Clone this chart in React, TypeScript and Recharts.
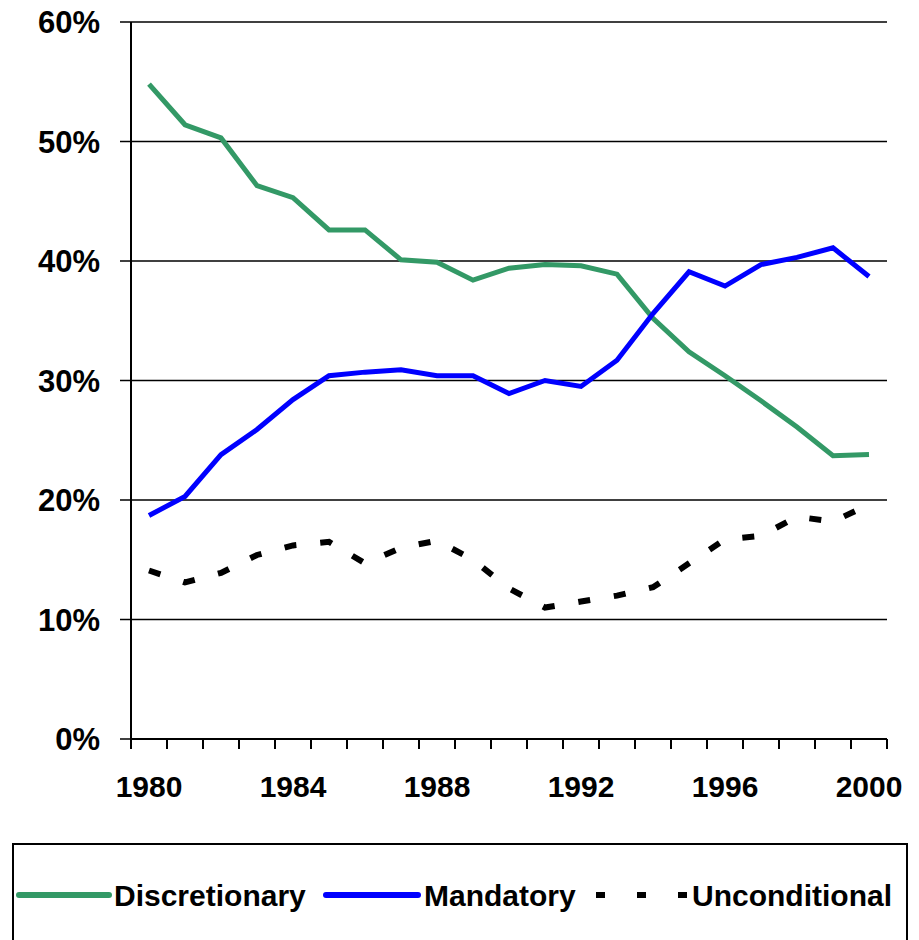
import React from "react";
import { LineChart, Line, XAxis, YAxis, CartesianGrid } from "recharts";

const years = [
  "1980", "1981", "1982", "1983", "1984", "1985", "1986", "1987", "1988", "1989", "1990",
  "1991", "1992", "1993", "1994", "1995", "1996", "1997", "1998", "1999", "2000",
];
const labelYears = ["1980", "1984", "1988", "1992", "1996", "2000"];
const discretionary = [
  54.8, 51.4, 50.3, 46.3, 45.3, 42.6, 42.6, 40.1, 39.9, 38.4, 39.4,
  39.7, 39.6, 38.9, 35.2, 32.4, 30.4, 28.3, 26.1, 23.7, 23.8,
];
const mandatory = [
  18.7, 20.3, 23.8, 25.9, 28.4, 30.4, 30.7, 30.9, 30.4, 30.4, 28.9,
  30.0, 29.5, 31.7, 35.6, 39.1, 37.9, 39.7, 40.3, 41.1, 38.7,
];
const unconditional = [
  14.1, 13.1, 13.9, 15.4, 16.2, 16.5, 14.7, 16.0, 16.6, 15.0, 12.6,
  11.0, 11.5, 12.0, 12.7, 14.7, 16.7, 17.0, 18.6, 18.2, 19.6,
];
const yTicks = [0, 10, 20, 30, 40, 50, 60];

const data = years.map((y, i) => ({
  year: y,
  Discretionary: discretionary[i],
  Mandatory: mandatory[i],
  Unconditional: unconditional[i],
}));

const W = 911;
const H = 808;
const margin = { top: 22, right: 24, bottom: 9, left: 0 };
const yAxisWidth = 131;
const plotWidth = W - margin.left - margin.right - yAxisWidth;
const halfBand = plotWidth / years.length / 2;
const FONT = "'Liberation Sans', Arial, sans-serif";

const XTick = (props: any) => {
  const { x, y, payload, index } = props;
  const v = String(payload.value);
  return (
    <g>
      <line x1={x - halfBand} y1={y} x2={x - halfBand} y2={y + 10} stroke="#000" strokeWidth={2} />
      {index === years.length - 1 && (
        <line x1={x + halfBand} y1={y} x2={x + halfBand} y2={y + 10} stroke="#000" strokeWidth={2} />
      )}
      {labelYears.includes(v) && (
        <text x={x} y={y + 58} textAnchor="middle" fontFamily={FONT} fontWeight="bold" fontSize={30} fill="#000">
          {v}
        </text>
      )}
    </g>
  );
};

const GREEN = "#339966";
const BLUE = "#0000FF";

export default function App() {
  return (
    <div style={{ position: "relative", width: W, height: 940, margin: "-8px 0 0 -8px", fontFamily: FONT }}>
      <LineChart width={W} height={H} data={data} margin={margin}>
        <CartesianGrid vertical={false} stroke="#000" strokeWidth={1.5} />
        <XAxis
          dataKey="year"
          interval={0}
          padding={{ left: halfBand, right: halfBand }}
          tickSize={0}
          tickMargin={0}
          tickLine={false}
          axisLine={{ stroke: "#000", strokeWidth: 2 }}
          tick={<XTick />}
          height={60}
        />
        <YAxis
          domain={[0, 60]}
          ticks={yTicks}
          interval={0}
          width={yAxisWidth}
          tickSize={11}
          tickMargin={20}
          tickFormatter={(v: number) => `${v}%`}
          axisLine={{ stroke: "#000", strokeWidth: 2 }}
          tickLine={{ stroke: "#000", strokeWidth: 1.5 }}
          tick={{ fill: "#000", fontSize: 31, fontWeight: "bold", fontFamily: FONT }}
        />
        <YAxis
          yAxisId="r"
          orientation="right"
          width={0}
          tick={false}
          tickLine={false}
          axisLine={{ stroke: "#000", strokeWidth: 1.5 }}
        />
        <Line type="linear" dataKey="Discretionary" stroke={GREEN} strokeWidth={5} dot={false} isAnimationActive={false} />
        <Line type="linear" dataKey="Mandatory" stroke={BLUE} strokeWidth={5} dot={false} isAnimationActive={false} />
        <Line
          type="linear"
          dataKey="Unconditional"
          stroke="#000"
          strokeWidth={6}
          strokeDasharray="12 24"
          dot={false}
          isAnimationActive={false}
        />
      </LineChart>
      <div
        style={{
          position: "absolute",
          left: 12,
          top: 843,
          width: 896,
          height: 120,
          border: "2px solid #000",
          boxSizing: "border-box",
        }}
      >
        <svg width={896} height={100} style={{ position: "absolute", left: 0, top: 0 }}>
          <line x1={5} y1={50} x2={95} y2={50} stroke={GREEN} strokeWidth={6} strokeLinecap="round" />
          <text x={100} y={61} fontFamily={FONT} fontWeight="bold" fontSize={30} fill="#000">Discretionary</text>
          <line x1={312} y1={50} x2={404} y2={50} stroke={BLUE} strokeWidth={6} strokeLinecap="round" />
          <text x={410} y={61} fontFamily={FONT} fontWeight="bold" fontSize={30} fill="#000">Mandatory</text>
          <line x1={582} y1={50} x2={674} y2={50} stroke="#000" strokeWidth={6} strokeDasharray="9 32" />
          <text x={678} y={61} fontFamily={FONT} fontWeight="bold" fontSize={30} fill="#000">Unconditional</text>
        </svg>
      </div>
    </div>
  );
}
